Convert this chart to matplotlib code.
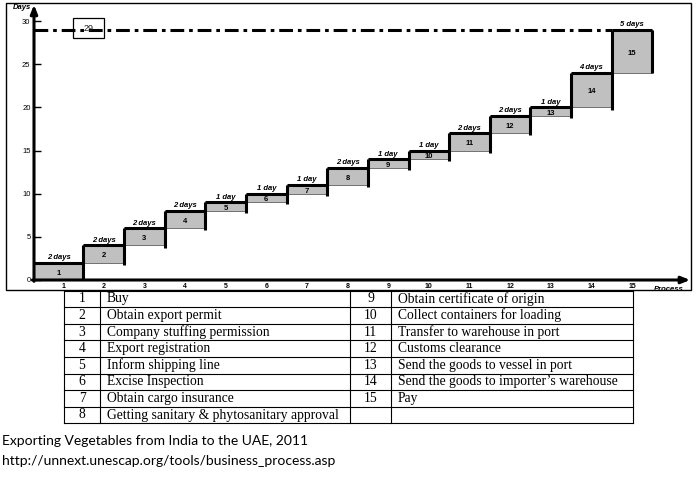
import numpy as np
import matplotlib
matplotlib.use("Agg")
import matplotlib.pyplot as plt
from matplotlib.patches import Rectangle

# steps of the export process and their duration in days
processes = list(range(1, 16))
durations = [2, 2, 2, 2, 1, 1, 1, 2, 1, 1, 2, 2, 1, 4, 5]
process_names = [
    "Buy",
    "Obtain export permit",
    "Company stuffing permission",
    "Export registration",
    "Inform shipping line",
    "Excise Inspection",
    "Obtain cargo insurance",
    "Getting sanitary & phytosanitary approval",
    "Obtain certificate of origin",
    "Collect containers for loading",
    "Transfer to warehouse in port",
    "Customs clearance",
    "Send the goods to vessel in port",
    "Send the goods to importer\u2019s warehouse",
    "Pay",
]
y_ticks = [0, 5, 10, 15, 20, 25, 30]
caption_lines = [
    "Exporting Vegetables from India to the UAE, 2011",
    "http://unnext.unescap.org/tools/business_process.asp",
]

W, H = 700, 478
fig = plt.figure(figsize=(W / 100, H / 100), dpi=100)


def fx(px):
    return px / W


def fy(py):
    return 1 - py / H


# outer frame of the chart picture
fig.patches.append(Rectangle((fx(6), fy(290)), fx(685), 287 / H, transform=fig.transFigure,
                             fill=False, lw=1.0, ec="black"))

# chart axes: y-axis at x=34px, x-axis at y=280px
ax = fig.add_axes([fx(34), fy(280), fx(691 - 34), 277 / H])
x0, x1 = 0.286, 16.45
ax.set_xlim(x0, x1)
ax.set_ylim(0, 32.1)
for s in ax.spines.values():
    s.set_visible(False)

starts = np.concatenate([[0], np.cumsum(durations)[:-1]])
tops = starts + np.array(durations)
total = int(np.sum(durations))
lefts = np.array(processes, dtype=float) - 0.5
lefts[0] = x0
widths = np.array(processes, dtype=float) + 0.5 - lefts

ax.bar(lefts, durations, width=widths, bottom=starts, align="edge",
       color="#c0c0c0", edgecolor="#606060", lw=0.6, zorder=2)

thick = 2.2
for i, p in enumerate(processes):
    ax.plot([lefts[i], p + 0.5], [tops[i], tops[i]], color="black", lw=thick,
            solid_capstyle="butt", zorder=3)
    if i + 1 < len(processes):
        ax.plot([p + 0.5, p + 0.5], [max(starts[i] - 0.25, 0), tops[i + 1]],
                color="black", lw=thick, solid_capstyle="butt", zorder=3)
    else:
        ax.plot([p + 0.5, p + 0.5], [starts[i], tops[i]], color="black", lw=thick,
                solid_capstyle="butt", zorder=3)
    label = "1 day" if durations[i] == 1 else f"{durations[i]} days"
    ax.annotate(label, (p if i else (lefts[0] + 1.5) / 2, tops[i]), xytext=(0, 1.2),
                textcoords="offset points", ha="center", va="bottom",
                fontsize=5.5, fontweight="bold", style="italic", family="Liberation Sans")
    ax.text(p if i else (lefts[0] + 1.5) / 2, starts[i] + durations[i] / 2 - 0.2, str(p),
            ha="center", va="center", fontsize=5.5, fontweight="bold",
            family="Liberation Sans", zorder=4)

# total time line
ax.plot([x0, processes[-1] - 0.5], [total, total], color="black", lw=2.2,
        ls=(0, (4.5, 1.6, 1.2, 1.6)), zorder=3)
ax.add_patch(Rectangle((1.246, 28.07), 0.763, 2.33, fill=False, ec="black", lw=0.9, zorder=4))
ax.text(1.63, 29.2, str(total), ha="center", va="center", fontsize=6.5,
        family="Liberation Sans", color="#222222", zorder=5)

# axes with arrow heads
ax.annotate("", xy=(x0, 31.9), xytext=(x0, -0.15),
            arrowprops=dict(arrowstyle="-|>,head_length=0.5,head_width=0.2", lw=2.2, color="black",
                            shrinkA=0, shrinkB=0), annotation_clip=False)
ax.annotate("", xy=(x1 - 0.02, 0), xytext=(x0 - 0.04, 0),
            arrowprops=dict(arrowstyle="-|>,head_length=0.5,head_width=0.2", lw=2.2, color="black",
                            shrinkA=0, shrinkB=0), annotation_clip=False)

ax.set_yticks(y_ticks)
ax.set_yticklabels([str(t) for t in y_ticks], fontsize=5.5, family="Liberation Sans")
ax.tick_params(axis="y", direction="in", length=5, width=1, pad=2.5, left=True)
ax.set_xticks(processes)
ax.set_xticklabels([str(p) for p in processes], fontsize=5, fontweight="bold",
                   family="Liberation Sans")
ax.tick_params(axis="x", length=0, pad=2)
ax.text(15.89, -0.75, "Process", ha="center", va="top", fontsize=5.5, fontweight="bold",
        style="italic", family="Liberation Sans")
fig.text(fx(22), fy(7.5), "Days", ha="center", va="center", fontsize=5.5, fontweight="bold",
         style="italic", family="Liberation Sans")

# legend table under the chart
cols = [64, 100, 350, 391, 633]
row_top, row_h, n_rows = 290.5, 16.6, 8
tab = fig.add_axes([0, 0, 1, 1])
tab.set_xlim(0, W)
tab.set_ylim(H, 0)
tab.axis("off")
tab.patch.set_alpha(0)
bottom = row_top + n_rows * row_h
for c in cols:
    tab.plot([c, c], [row_top, bottom], color="black", lw=0.8)
for r in range(n_rows + 1):
    y = row_top + r * row_h
    tab.plot([cols[0], cols[-1]], [y, y], color="black", lw=0.8)
for i, name in enumerate(process_names):
    half = 0 if i < n_rows else 2
    r = i % n_rows
    yc = row_top + (r + 0.5) * row_h
    tab.text((cols[half] + cols[half + 1]) / 2, yc, str(processes[i]), ha="center", va="center",
             fontsize=9.8, family="Liberation Serif")
    tab.text(cols[half + 1] + 7, yc, name, ha="left", va="center",
             fontsize=9.8, family="Liberation Serif")

for k, line in enumerate(caption_lines):
    tab.text(2, 441 + k * 20, line, ha="left", va="center", fontsize=10, family="Lato")

fig.savefig("out.png", dpi=100)
